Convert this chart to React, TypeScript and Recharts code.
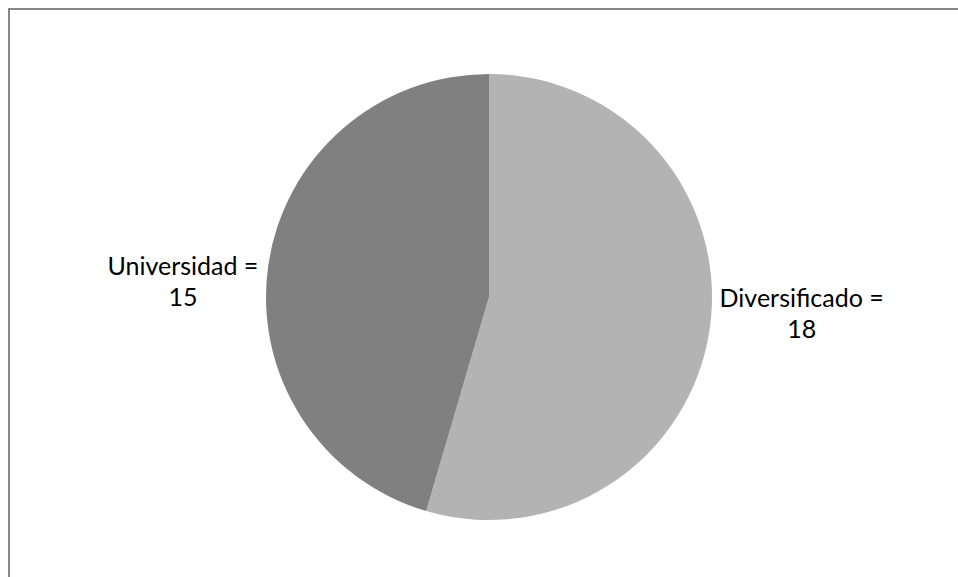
import { PieChart, Pie, Cell } from 'recharts';

const categories = ['Diversificado', 'Universidad'];
const values = [18, 15];
const sliceColors = ['#B3B3B3', '#808080'];

const data = categories.map((name, i) => ({ name, value: values[i] }));

const FONT = '25px Lato';

function measure(text: string) {
  const ctx = document.createElement('canvas').getContext('2d');
  if (!ctx) return text.length * 11;
  ctx.font = FONT;
  return ctx.measureText(text).width;
}

const RAD = Math.PI / 180;

function renderLabel(props: any) {
  const { cx, cy, midAngle, outerRadius, name, value } = props;
  const cos = Math.cos(-midAngle * RAD);
  const sin = Math.sin(-midAngle * RAD);
  const edgeX = cx + (outerRadius + 10) * cos;
  const midY = cy + outerRadius * sin * 0.5;
  const line1 = `${name} =`;
  const w = measure(line1);
  const centerX = cos >= 0 ? edgeX + w / 2 : edgeX - w / 2;
  return (
    <text
      x={centerX}
      y={midY}
      textAnchor="middle"
      fill="#000"
      style={{ fontFamily: 'Lato', fontSize: 25 }}
    >
      <tspan x={centerX} dy={-6}>{line1}</tspan>
      <tspan x={centerX} dy={31}>{value}</tspan>
    </text>
  );
}

export default function App() {
  return (
    <div
      style={{
        position: 'fixed',
        left: 8,
        top: 8,
        right: 0,
        bottom: 0,
        borderTop: '2px solid #878787',
        borderLeft: '2px solid #878787',
        background: '#fff',
        overflow: 'hidden',
      }}
    >
      <PieChart width={940} height={567} margin={{ top: 0, right: 0, bottom: 0, left: 0 }}>
        <Pie
          data={data}
          dataKey="value"
          nameKey="name"
          cx={479}
          cy={287}
          outerRadius={223}
          startAngle={90}
          endAngle={-270}
          stroke="none"
          label={renderLabel}
          labelLine={false}
          isAnimationActive={false}
        >
          {data.map((d, i) => (
            <Cell key={d.name} fill={sliceColors[i]} />
          ))}
        </Pie>
      </PieChart>
    </div>
  );
}
